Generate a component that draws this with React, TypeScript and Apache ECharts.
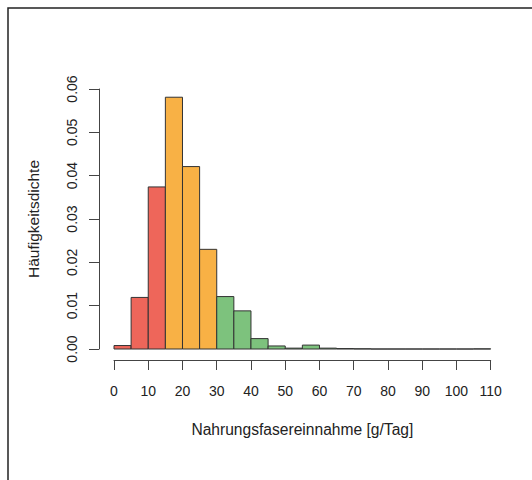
import React, { useEffect, useRef } from "react";
import * as echarts from "echarts";

const binStarts = [0, 5, 10, 15, 20, 25, 30, 35, 40, 45, 50, 55, 60, 65, 70, 75, 80, 85, 90, 95, 100, 105];
const binWidth = 5;
const densities = [0.0008, 0.0119, 0.0374, 0.0581, 0.0421, 0.023, 0.0121, 0.0088, 0.0024, 0.0007, 0.0002, 0.0009, 0.0002, 0.0001, 0.00005, 0, 0, 0, 0, 0, 0, 0.00003];
const groups = ["low", "low", "low", "mid", "mid", "mid", "high", "high", "high", "high", "high", "high", "high", "high", "high", "high", "high", "high", "high", "high", "high", "high"];
const groupColors: Record<string, string> = { low: "#EE665A", mid: "#F8B145", high: "#7DC27D" };
const yTicks = [0, 0.01, 0.02, 0.03, 0.04, 0.05, 0.06];
const xTicks = [0, 10, 20, 30, 40, 50, 60, 70, 80, 90, 100, 110];

const FONT = "Liberation Sans, Arial, Helvetica, sans-serif";

export default function App() {
  const ref = useRef<HTMLDivElement>(null);
  useEffect(() => {
    if (!ref.current) return;
    const chart = echarts.init(ref.current, undefined, { renderer: "svg" });
    const data = binStarts.map((s, i) => [s, s + binWidth, densities[i], i]);
    chart.setOption({
      animation: false,
      backgroundColor: "#ffffff",
      grid: { left: 114, right: 41.3, top: 89, bottom: 131, containLabel: false },
      xAxis: {
        type: "value",
        min: xTicks[0],
        max: xTicks[xTicks.length - 1],
        interval: 10,
        offset: 11,
        name: "Nahrungsfasereinnahme [g/Tag]",
        nameLocation: "middle",
        nameGap: 61,
        nameTextStyle: { fontFamily: FONT, fontSize: 15.6, color: "#222" },
        axisLine: { show: true, onZero: false, lineStyle: { color: "#444", width: 1 } },
        axisTick: { show: true, length: 10, inside: false, lineStyle: { color: "#444", width: 1 } },
        axisLabel: { fontFamily: FONT, fontSize: 14, color: "#222", margin: 24, showMinLabel: true, showMaxLabel: true },
        splitLine: { show: false },
      },
      yAxis: {
        type: "value",
        min: yTicks[0],
        max: yTicks[yTicks.length - 1],
        interval: 0.01,
        offset: 15,
        name: "Häufigkeitsdichte",
        nameLocation: "middle",
        nameGap: 58,
        nameTextStyle: { fontFamily: FONT, fontSize: 15.5, color: "#222" },
        axisLine: { show: true, onZero: false, lineStyle: { color: "#444", width: 1 } },
        axisTick: { show: true, length: 10, inside: false, lineStyle: { color: "#444", width: 1 } },
        axisLabel: {
          fontFamily: FONT,
          fontSize: 14,
          color: "#222",
          rotate: 90,
          margin: 20,
          formatter: (v: number) => v.toFixed(2),
        },
        splitLine: { show: false },
      },
      graphic: [
        {
          type: "rect",
          shape: { x: 8, y: 8, width: 700, height: 700 },
          style: { fill: "none", stroke: "#222", lineWidth: 1.5 },
          silent: true,
        },
      ],
      series: [
        {
          type: "custom",
          data,
          encode: { x: [0, 1], y: 2 },
          clip: false,
          renderItem: (params: any, api: any) => {
            const i = api.value(3);
            const tl = api.coord([api.value(0), api.value(2)]);
            const br = api.coord([api.value(1), 0]);
            return {
              type: "rect",
              shape: { x: tl[0], y: tl[1], width: br[0] - tl[0], height: br[1] - tl[1] },
              style: { fill: groupColors[groups[i]], stroke: "#333", lineWidth: 1 },
            };
          },
        },
      ],
    });
    return () => chart.dispose();
  }, []);
  return (
    <div
      ref={ref}
      style={{ position: "absolute", left: 0, top: 0, width: 532, height: 480, overflow: "hidden", background: "#fff" }}
    />
  );
}
